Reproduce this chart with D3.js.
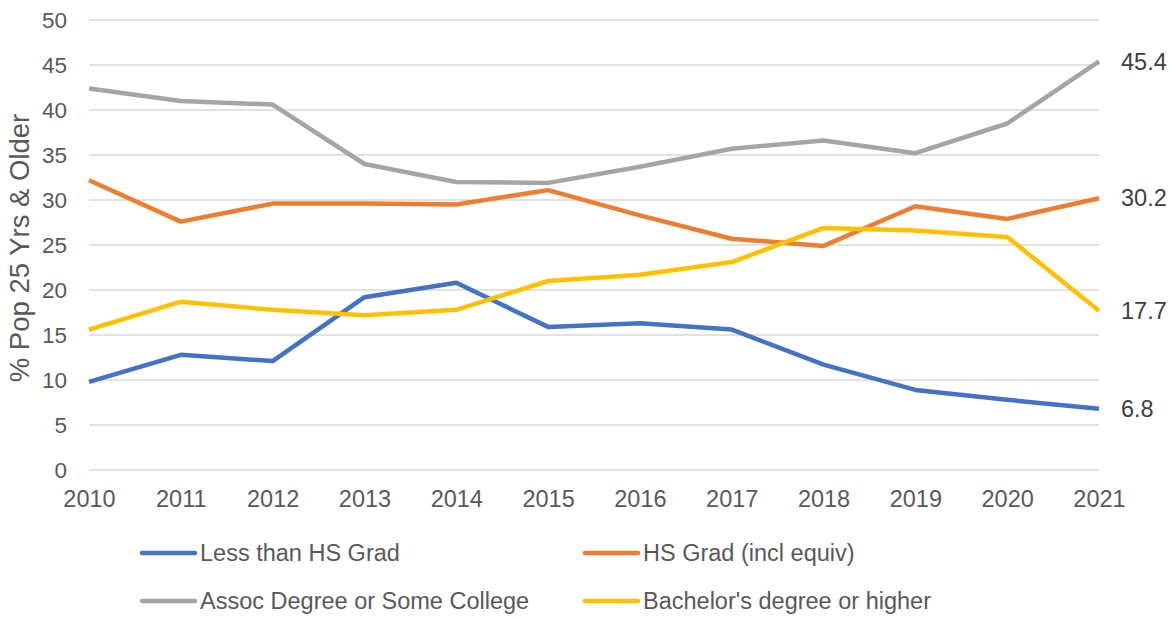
<!DOCTYPE html>
<html>
<head>
<meta charset="utf-8">
<script src="https://cdn.jsdelivr.net/npm/d3@7"></script>
<style>
  body { margin: 0; background: #fff; }
  text { font-family: "Liberation Sans", Arial, sans-serif; }
</style>
</head>
<body>
<svg id="chart"></svg>
<script>
// data
const years = [2010, 2011, 2012, 2013, 2014, 2015, 2016, 2017, 2018, 2019, 2020, 2021];
const lessThanHS = [9.8, 12.8, 12.1, 19.2, 20.8, 15.9, 16.3, 15.6, 11.7, 8.9, 7.8, 6.8];
const hsGrad = [32.2, 27.6, 29.6, 29.6, 29.5, 31.1, 28.3, 25.7, 24.9, 29.3, 27.9, 30.2];
const assocSome = [42.4, 41.0, 40.6, 34.0, 32.0, 31.9, 33.7, 35.7, 36.6, 35.2, 38.5, 45.4];
const bachelors = [15.6, 18.7, 17.8, 17.2, 17.8, 21.0, 21.7, 23.1, 26.9, 26.6, 25.9, 17.7];
const seriesNames = ["Less than HS Grad", "HS Grad (incl equiv)", "Assoc Degree or Some College", "Bachelor's degree or higher"];
const yTicks = [0, 5, 10, 15, 20, 25, 30, 35, 40, 45, 50];

const colors = ["#4472C4", "#ED7D31", "#A5A5A5", "#FFC000"];
const series = [lessThanHS, hsGrad, assocSome, bachelors].map((vals, i) => ({
  name: seriesNames[i],
  color: colors[i],
  values: vals.map((v, j) => ({ year: years[j], value: v }))
}));

const W = 1169, H = 618;
const margin = {top: 20, right: 70, bottom: 148, left: 89};
const width = W - margin.left - margin.right,
      height = H - margin.top - margin.bottom;

const svg = d3.select("#chart").attr("width", W).attr("height", H);
const g = svg.append("g").attr("transform", "translate(" + margin.left + "," + margin.top + ")");

const x = d3.scalePoint().domain(years).range([0, width]);
const y = d3.scaleLinear().domain([0, 50]).range([height, 0]);

// gridlines
g.append("g")
  .selectAll("line")
  .data(yTicks)
  .join("line")
  .attr("x1", 0).attr("x2", width)
  .attr("y1", d => y(d)).attr("y2", d => y(d))
  .attr("stroke", "#D9D9D9").attr("stroke-width", 1.3);

// y axis
const yAxis = g.append("g")
  .call(d3.axisLeft(y).tickValues(yTicks).tickSize(0).tickPadding(22));
yAxis.select(".domain").remove();
yAxis.selectAll("text").attr("font-size", 22.5).attr("fill", "#595959")
  .style("font-family", "Liberation Sans, Arial, sans-serif");

// x axis
const xAxis = g.append("g")
  .attr("transform", "translate(0," + height + ")")
  .call(d3.axisBottom(x).tickSize(0).tickPadding(20));
xAxis.select(".domain").remove();
xAxis.selectAll("text").attr("font-size", 23.5).attr("fill", "#595959")
  .style("font-family", "Liberation Sans, Arial, sans-serif");

// y title
svg.append("text")
  .attr("transform", "translate(29,248) rotate(-90)")
  .attr("text-anchor", "middle")
  .attr("font-size", 27.5)
  .attr("fill", "#595959")
  .text("% Pop 25 Yrs & Older");

const line = d3.line()
  .x(d => x(d.year))
  .y(d => y(d.value));

g.selectAll("path.series")
  .data(series)
  .join("path")
  .attr("class", "series")
  .attr("fill", "none")
  .attr("stroke", d => d.color)
  .attr("stroke-width", 4.5)
  .attr("stroke-linejoin", "round")
  .attr("d", d => line(d.values));

// end labels
g.selectAll("text.endlabel")
  .data(series)
  .join("text")
  .attr("class", "endlabel")
  .attr("x", width + 22)
  .attr("y", d => y(d.values[d.values.length - 1].value))
  .attr("dy", "0.35em")
  .attr("font-size", 23.5)
  .attr("fill", "#404040")
  .text(d => d.values[d.values.length - 1].value.toFixed(1));

// legend
const legendPos = [[140, 553], [583, 553], [140, 601], [583, 601]];
const legend = svg.append("g")
  .selectAll("g")
  .data(series)
  .join("g")
  .attr("transform", (d, i) => "translate(" + legendPos[i][0] + "," + legendPos[i][1] + ")");
legend.append("line")
  .attr("x1", 2).attr("x2", 55)
  .attr("stroke", d => d.color)
  .attr("stroke-width", 4.5)
  .attr("stroke-linecap", "round");
legend.append("text")
  .attr("x", 60)
  .attr("dy", "0.35em")
  .attr("font-size", 23.5)
  .attr("fill", "#595959")
  .text(d => d.name);
</script>
</body>
</html>
